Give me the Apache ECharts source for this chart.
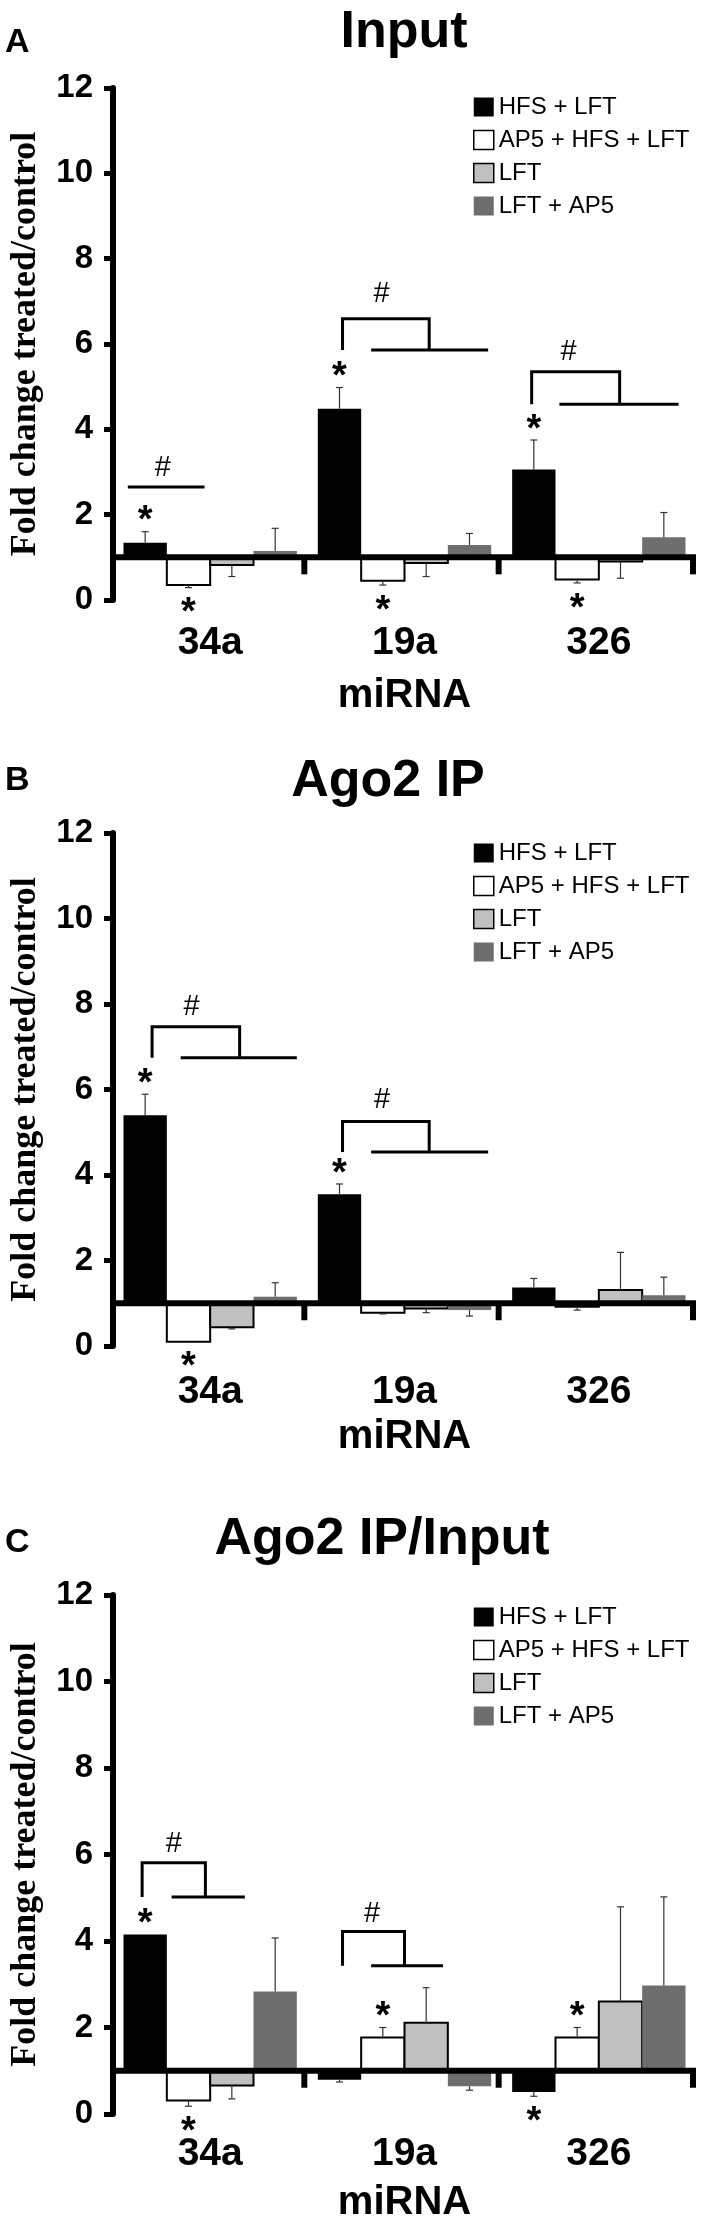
<!DOCTYPE html>
<html><head><meta charset="utf-8">
<script src="https://cdn.jsdelivr.net/npm/echarts@6/dist/echarts.min.js"></script>
<style>html,body{margin:0;padding:0;background:#fff}#c{width:708px;height:2224px}</style>
</head><body><div id="c"></div>
<script>
// ---------- data ----------
const categories = ['34a', '19a', '326'];
const treatments = ['HFS + LFT', 'AP5 + HFS + LFT', 'LFT', 'LFT + AP5'];
const panelTitles = ['Input', 'Ago2 IP', 'Ago2 IP/Input'];
const panelLetters = ['A', 'B', 'C'];
const xAxisName = 'miRNA';
const yAxisName = 'Fold change treated/control';
const yMin = 0, yMax = 12, yStep = 2;
const baselineValue = 1;

// Panel A: Input
const inputHfsLft = [1.34, 4.48, 3.06];
const inputAp5HfsLft = [0.35, 0.45, 0.48];
const inputLft = [0.82, 0.87, 0.90];
const inputLftAp5 = [1.15, 1.29, 1.47];
const inputHfsLftErr = [0.26, 0.50, 0.69];
const inputAp5HfsLftErr = [0.06, 0.10, 0.08];
const inputLftErr = [0.27, 0.32, 0.39];
const inputLftAp5Err = [0.53, 0.27, 0.58];

// Panel B: Ago2 IP
const ipHfsLft = [5.40, 3.55, 1.37];
const ipAp5HfsLft = [0.10, 0.78, 0.92];
const ipLft = [0.44, 0.88, 1.31];
const ipLftAp5 = [1.15, 0.84, 1.19];
const ipHfsLftErr = [0.49, 0.24, 0.21];
const ipAp5HfsLftErr = [0.00, 0.03, 0.08];
const ipLftErr = [0.04, 0.10, 0.88];
const ipLftAp5Err = [0.33, 0.14, 0.42];

// Panel C: Ago2 IP / Input
const ratioHfsLft = [4.15, 0.79, 0.51];
const ratioAp5HfsLft = [0.31, 1.77, 1.77];
const ratioLft = [0.66, 2.11, 2.60];
const ratioLftAp5 = [2.83, 0.64, 2.97];
const ratioHfsLftErr = [0.00, 0.05, 0.10];
const ratioAp5HfsLftErr = [0.13, 0.23, 0.23];
const ratioLftErr = [0.31, 0.81, 2.19];
const ratioLftAp5Err = [1.24, 0.09, 2.05];

// significance marks: [category index, treatment index]
const inputStars = [[0, 0], [0, 1], [1, 0], [1, 1], [2, 0], [2, 1]];
const ipStars = [[0, 0], [0, 1], [1, 0]];
const ratioStars = [[0, 0], [0, 1], [1, 1], [2, 0], [2, 1]];

// '#' comparisons (y in data units; x in bar-slot units within a group)
const inputBrackets = [
  {cat: 0, line: true, y: 2.65, x0: 0.10, x1: 1.87, hash: 3.09, hx: 0.91},
  {cat: 1, top: 6.59, low: 5.86, hash: 7.17, tl: 0.57, tr: 2.57, ll: 1.23, lr: 3.93, hx: 1.47},
  {cat: 2, top: 5.35, low: 4.59, hash: 5.81, tl: 0.45, tr: 2.48, ll: 1.09, lr: 3.84, hx: 1.30}
];
const ipBrackets = [
  {cat: 0, top: 7.47, low: 6.74, hash: 7.93, tl: 0.66, tr: 2.68, ll: 1.32, lr: 4.00, hx: 1.57},
  {cat: 1, top: 5.25, low: 4.54, hash: 5.75, tl: 0.57, tr: 2.57, ll: 1.23, lr: 3.93, hx: 1.48}
];
const ratioBrackets = [
  {cat: 0, top: 5.81, low: 5.02, hash: 6.24, tl: 0.43, tr: 1.89, ll: 1.11, lr: 2.80, hx: 1.16},
  {cat: 1, top: 4.22, low: 3.43, hash: 4.63, tl: 0.57, tr: 2.00, ll: 1.23, lr: 2.89, hx: 1.25}
];

// ---------- assembly ----------
const panelValues = [
  [inputHfsLft, inputAp5HfsLft, inputLft, inputLftAp5],
  [ipHfsLft, ipAp5HfsLft, ipLft, ipLftAp5],
  [ratioHfsLft, ratioAp5HfsLft, ratioLft, ratioLftAp5]
];
const panelErrors = [
  [inputHfsLftErr, inputAp5HfsLftErr, inputLftErr, inputLftAp5Err],
  [ipHfsLftErr, ipAp5HfsLftErr, ipLftErr, ipLftAp5Err],
  [ratioHfsLftErr, ratioAp5HfsLftErr, ratioLftErr, ratioLftAp5Err]
];
const panelStars = [inputStars, ipStars, ratioStars];
const panelBrackets = [inputBrackets, ipBrackets, ratioBrackets];

// layout / style
const layout = [
  {top: 88, height: 512, titleX: 404, titleY: 33, letterY: 43, labelMargin: 24, nameGap: 76, legendTop: 90},
  {top: 833, height: 513, titleX: 388, titleY: 782, letterY: 781, labelMargin: 27, nameGap: 71, legendTop: 836},
  {top: 1595, height: 521, titleX: 382, titleY: 1540, letterY: 1543, labelMargin: 21, nameGap: 69, legendTop: 1600}
];
const GRID_LEFT = 105, GRID_RIGHT = 12;
const GAP = 0.108;
const barStyles = [
  {fill: '#000000', stroke: '#000000', lineWidth: 0},
  {fill: '#ffffff', stroke: '#000000', lineWidth: 2},
  {fill: '#c0c0c0', stroke: '#000000', lineWidth: 2},
  {fill: '#6e6e6e', stroke: '#6e6e6e', lineWidth: 0}
];
const SANS = '"Liberation Sans", Arial, sans-serif';
const SERIF = '"Liberation Serif", "Times New Roman", serif';
const STAR_FONT = 38, STAR_GAP = 18;

function geom(api, cat) {
  const band = api.size([1, 0])[0];
  const bw = band * (1 - GAP) / 4;
  const c = api.coord([cat, baselineValue]);
  return {bw: bw, left: c[0] - 2 * bw, yb: c[1], band: band, cx: c[0]};
}

function barRender(p, s) {
  return function (params, api) {
    const cat = api.value(0), v = api.value(1), e = api.value(2);
    const g = geom(api, cat);
    const x0 = g.left + s * g.bw;
    const yv = api.coord([cat, v])[1];
    const st = barStyles[s];
    const children = [{
      type: 'rect',
      shape: {x: x0, y: Math.min(yv, g.yb), width: g.bw, height: Math.abs(g.yb - yv)},
      style: {fill: st.fill, stroke: st.lineWidth ? st.stroke : null, lineWidth: st.lineWidth}
    }];
    if (e > 0) {
      const tip = api.coord([cat, v >= baselineValue ? v + e : v - e])[1];
      const xm = x0 + g.bw / 2;
      children.push({type: 'line', shape: {x1: xm, y1: yv, x2: xm, y2: tip}, style: {stroke: '#333', lineWidth: 1.2}});
      children.push({type: 'line', shape: {x1: xm - 3.5, y1: tip, x2: xm + 3.5, y2: tip}, style: {stroke: '#333', lineWidth: 1.2}});
    }
    return {type: 'group', children: children};
  };
}

function baseRender(params, api) {
  const g0 = geom(api, 0), g2 = geom(api, categories.length - 1);
  const xl = g0.cx - g0.band / 2, xr = g2.cx + g2.band / 2;
  const y = g0.yb;
  const children = [{type: 'rect', shape: {x: xl, y: y - 3, width: xr - xl, height: 6}, style: {fill: '#000'}}];
  for (let i = 0; i < categories.length; i++) {
    const g = geom(api, i);
    const bx = g.cx + g.band / 2;
    children.push({type: 'rect', shape: {x: bx - 6, y: y, width: 6, height: 17}, style: {fill: '#000'}});
  }
  return {type: 'group', children: children};
}

function starRender(p) {
  return function (params, api) {
    const st = panelStars[p][params.dataIndex];
    const cat = st[0], s = st[1];
    const v = panelValues[p][s][cat], e = panelErrors[p][s][cat];
    const up = v >= baselineValue;
    const tip = api.coord([cat, up ? v + e : v - e])[1];
    const g = geom(api, cat);
    const x = g.left + (s + 0.5) * g.bw;
    const y = (up ? tip - STAR_GAP : tip + STAR_GAP) + STAR_FONT * 0.215;
    return {type: 'text', style: {text: '*', x: x, y: y, align: 'center', verticalAlign: 'middle',
      font: 'bold ' + STAR_FONT + 'px ' + SANS, fill: '#000'}};
  };
}

function bracketRender(p) {
  return function (params, api) {
    const b = panelBrackets[p][params.dataIndex];
    const g = geom(api, b.cat);
    const X = function (sl) { return g.left + sl * g.bw; };
    const Y = function (v) { return api.coord([b.cat, v])[1]; };
    const ls = {stroke: '#000', lineWidth: 3, fill: null};
    const children = [];
    if (b.line) {
      children.push({type: 'line', shape: {x1: X(b.x0), y1: Y(b.y), x2: X(b.x1), y2: Y(b.y)}, style: ls});
    } else {
      children.push({type: 'polyline', shape: {points: [[X(b.tl), Y(b.low)], [X(b.tl), Y(b.top)], [X(b.tr), Y(b.top)], [X(b.tr), Y(b.low)]]}, style: ls});
      children.push({type: 'line', shape: {x1: X(b.ll), y1: Y(b.low), x2: X(b.lr), y2: Y(b.low)}, style: ls});
    }
    children.push({type: 'text', style: {text: '#', x: X(b.hx), y: Y(b.hash), align: 'center', verticalAlign: 'middle',
      font: '29px ' + SANS, fill: '#000'}});
    return {type: 'group', children: children};
  };
}

const grids = [], xAxes = [], yAxes = [], series = [], legends = [], graphics = [];
const legendData = treatments.map(function (t, i) {
  const st = barStyles[i];
  return {name: t, icon: 'rect', itemStyle: {color: st.fill, borderColor: i === 1 || i === 2 ? '#000' : st.fill, borderWidth: i === 1 || i === 2 ? 1.5 : 0}};
});

for (let p = 0; p < 3; p++) {
  const L = layout[p];
  grids.push({left: GRID_LEFT, right: GRID_RIGHT, top: L.top, height: L.height, containLabel: false});
  xAxes.push({
    gridIndex: p, type: 'category', data: categories,
    axisLine: {show: false}, axisTick: {show: false}, splitLine: {show: false},
    axisLabel: {fontSize: 39, fontWeight: 'bold', fontFamily: SANS, color: '#000', margin: L.labelMargin},
    name: xAxisName, nameLocation: 'middle', nameGap: L.nameGap,
    nameTextStyle: {fontSize: 40, fontWeight: 'bold', fontFamily: SANS, color: '#000'}
  });
  yAxes.push({
    gridIndex: p, type: 'value', min: yMin, max: yMax, interval: yStep,
    axisLine: {show: true, lineStyle: {color: '#000', width: 6}},
    axisTick: {show: true, length: 9, lineStyle: {color: '#000', width: 5}},
    splitLine: {show: false},
    axisLabel: {fontSize: 33, fontWeight: 'bold', fontFamily: SANS, color: '#000', margin: 20},
    name: yAxisName, nameLocation: 'middle', nameGap: 69,
    nameTextStyle: {fontSize: 36, fontWeight: 'bold', fontFamily: SERIF, color: '#000'}
  });
  for (let s = 0; s < 4; s++) {
    series.push({
      type: 'custom', name: treatments[s], coordinateSystem: 'cartesian2d', xAxisIndex: p, yAxisIndex: p,
      itemStyle: {color: barStyles[s].fill, borderColor: barStyles[s].stroke},
      encode: {x: 0, y: 1},
      data: categories.map(function (c, i) { return [i, panelValues[p][s][i], panelErrors[p][s][i]]; }),
      renderItem: barRender(p, s), z: 2, silent: true
    });
  }
  series.push({type: 'custom', coordinateSystem: 'cartesian2d', xAxisIndex: p, yAxisIndex: p,
    encode: {x: 0, y: 1}, data: [[0, baselineValue]], renderItem: baseRender, z: 3, silent: true});
  series.push({type: 'custom', coordinateSystem: 'cartesian2d', xAxisIndex: p, yAxisIndex: p,
    encode: {x: 0, y: 1}, data: panelStars[p].map(function (st) { return [st[0], panelValues[p][st[1]][st[0]]]; }),
    renderItem: starRender(p), z: 4, silent: true});
  series.push({type: 'custom', coordinateSystem: 'cartesian2d', xAxisIndex: p, yAxisIndex: p,
    encode: {x: 0, y: 1}, data: panelBrackets[p].map(function (b) { return [b.cat, b.line ? b.y : b.top]; }),
    renderItem: bracketRender(p), z: 4, silent: true});
  legends.push({
    orient: 'vertical', left: 468, top: L.legendTop, itemWidth: 20, itemHeight: 19, itemGap: 9,
    selectedMode: false, data: legendData,
    textStyle: {fontSize: 24, fontFamily: SANS, color: '#000'}
  });
  graphics.push({type: 'text', style: {text: panelTitles[p], x: L.titleX, y: L.titleY, align: 'center', verticalAlign: 'middle',
    font: 'bold 52px ' + SANS, fill: '#000'}});
  graphics.push({type: 'text', style: {text: panelLetters[p], x: 5, y: L.letterY, align: 'left', verticalAlign: 'middle',
    font: 'bold 34px ' + SANS, fill: '#000'}});
}

const chart = echarts.init(document.getElementById('c'), null, {renderer: 'canvas'});
chart.setOption({
  animation: false,
  backgroundColor: '#ffffff',
  grid: grids, xAxis: xAxes, yAxis: yAxes, series: series, legend: legends, graphic: graphics
});
</script>
</body></html>
